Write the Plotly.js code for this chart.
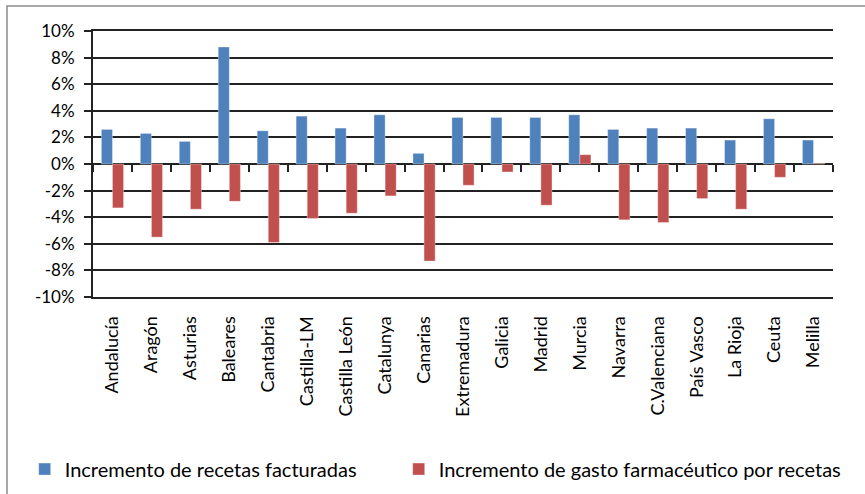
<!DOCTYPE html>
<html>
<head>
<meta charset="utf-8">
<script src="https://cdn.plot.ly/plotly-3.0.1.min.js"></script>
<style>html,body{margin:0;padding:0;background:#fff;}#chart{width:865px;height:494px;}</style>
</head>
<body>
<div id="chart"></div>
<script>
var regiones = ["Andalucía","Aragón","Asturias","Baleares","Cantabria","Castilla-LM","Castilla León","Catalunya","Canarias","Extremadura","Galicia","Madrid","Murcia","Navarra","C.Valenciana","País Vasco","La Rioja","Ceuta","Melilla"];
var recetas = [2.6, 2.3, 1.7, 8.8, 2.5, 3.6, 2.7, 3.7, 0.8, 3.5, 3.5, 3.5, 3.7, 2.6, 2.7, 2.7, 1.8, 3.4, 1.8];
var gasto = [-3.3, -5.5, -3.4, -2.8, -5.9, -4.1, -3.7, -2.4, -7.3, -1.6, -0.6, -3.1, 0.7, -4.2, -4.4, -2.6, -3.4, -1.0, 0.05];
var nombreRecetas = "Incremento de recetas facturadas";
var nombreGasto = "Incremento de gasto farmacéutico por recetas";
var yTickVals = [-10, -8, -6, -4, -2, 0, 2, 4, 6, 8, 10];
var yTickText = ["-10%", "-8%", "-6%", "-4%", "-2%", "0%", "2%", "4%", "6%", "8%", "10%"];

var gridColor = "#222222";
var traces = [
  {type: "bar", name: nombreRecetas, x: regiones, y: recetas, legend: "legend",
   marker: {color: "#4F81BD", line: {color: "rgba(255,255,255,0.35)", width: 1}}, hoverinfo: "x+y"},
  {type: "bar", name: nombreGasto, x: regiones, y: gasto, legend: "legend2",
   marker: {color: "#C0504D", line: {color: "rgba(255,255,255,0.35)", width: 1}}, hoverinfo: "x+y"},
  {type: "scatter", mode: "markers", x: regiones, y: recetas, xaxis: "x2", yaxis: "y",
   marker: {opacity: 0}, showlegend: false, hoverinfo: "skip"}
];

var legendFont = {size: 20, family: "Lato, sans-serif", color: "#000000"};
var layout = {
  width: 865, height: 494,
  margin: {l: 93, r: 32, t: 31, b: 197, autoexpand: false},
  paper_bgcolor: "#ffffff", plot_bgcolor: "#ffffff",
  font: {family: "Lato, 'DejaVu Sans', sans-serif", color: "#000000", size: 17},
  barmode: "group", bargap: 0.43, bargroupgap: 0,
  showlegend: true,
  legend: {orientation: "h", x: -0.0923, xanchor: "left", y: -0.647, yanchor: "middle", font: legendFont},
  legend2: {orientation: "h", x: 0.4131, xanchor: "left", y: -0.647, yanchor: "middle", font: legendFont},
  xaxis: {type: "category", categoryarray: regiones, range: [-0.5, 18.5], automargin: false,
          showgrid: false, zeroline: false, showline: true, mirror: true,
          linecolor: gridColor, linewidth: 2,
          ticks: "", tickangle: -90, ticklabelstandoff: 10,
          tickfont: {size: 18, family: "Lato, sans-serif"}},
  xaxis2: {type: "category", categoryarray: regiones, range: [-0.5, 18.5], automargin: false,
           overlaying: "x", anchor: "free", position: 0.5,
           showgrid: false, zeroline: false, showline: false,
           ticks: "outside", tickson: "boundaries", ticklen: 7, tickwidth: 2, tickcolor: gridColor,
           showticklabels: false},
  yaxis: {range: [-10, 10], tickvals: yTickVals, ticktext: yTickText, automargin: false,
          showgrid: true, gridcolor: gridColor, gridwidth: 2,
          zeroline: true, zerolinecolor: gridColor, zerolinewidth: 2,
          showline: true, linecolor: gridColor, linewidth: 2,
          ticks: "outside", ticklen: 7, tickwidth: 2, tickcolor: gridColor,
          ticklabelstandoff: 6, tickfont: {size: 17}},
  shapes: [{type: "rect", xref: "paper", yref: "paper",
            x0: -0.1162, x1: 1.05, y0: -0.78, y1: 1.094,
            line: {color: "#8c8c8c", width: 1.5}, fillcolor: "rgba(0,0,0,0)", layer: "below"}]
};

Plotly.newPlot("chart", traces, layout, {displayModeBar: false, staticPlot: true});
</script>
</body>
</html>
